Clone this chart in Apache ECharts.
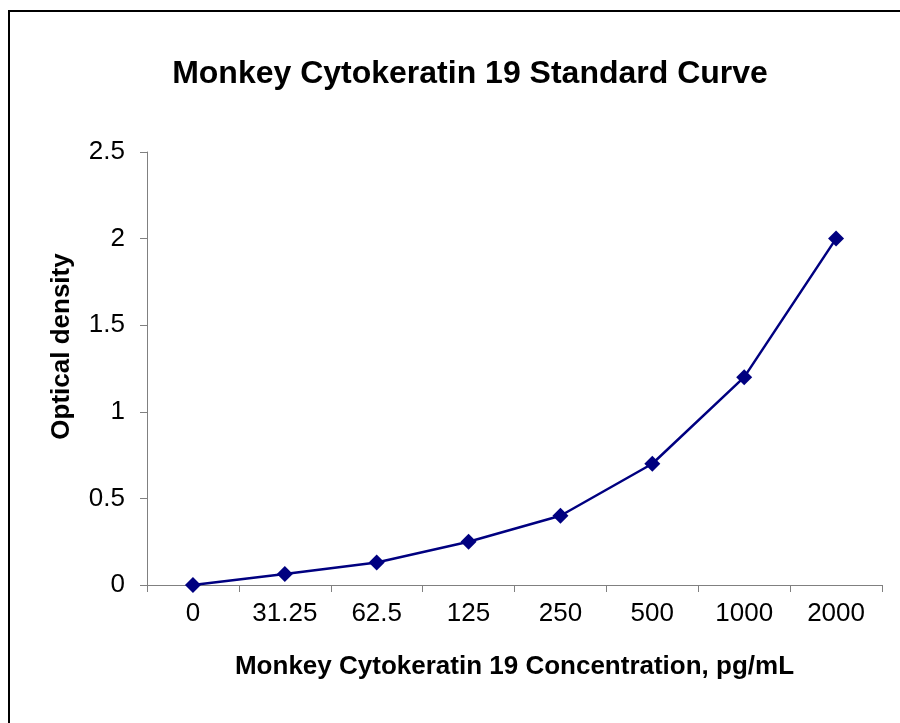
<!DOCTYPE html>
<html><head><meta charset="utf-8">
<script src="https://cdn.jsdelivr.net/npm/echarts@6/dist/echarts.min.js"></script>
<style>html,body{margin:0;padding:0;background:#fff}#c{width:900px;height:723px}</style>
</head><body><div id="c"></div>
<script>
const categories = ['0','31.25','62.5','125','250','500','1000','2000'];
const odValues = [0, 0.063, 0.13, 0.25, 0.40, 0.70, 1.20, 2.00];
const yTicks = [0, 0.5, 1, 1.5, 2, 2.5];

const chart = echarts.init(document.getElementById('c'), null, {renderer:'canvas'});
const font = 'Liberation Sans, Arial, sans-serif';
chart.setOption({
  animation: false,
  backgroundColor: '#fff',
  title: {
    text: 'Monkey Cytokeratin 19 Standard Curve',
    left: 465, top: 53, textAlign: 'center',
    textStyle: {fontFamily: font, fontSize: 32, fontWeight: 'bold', color: '#000'}
  },
  graphic: [{
    type: 'rect', shape: {x: 9, y: 11, width: 1000, height: 1000},
    style: {fill: 'none', stroke: '#000', lineWidth: 2}, silent: true
  }],
  grid: {left: 147, right: 18, top: 152, bottom: 138},
  xAxis: {
    type: 'category', data: categories, boundaryGap: true,
    name: 'Monkey Cytokeratin 19 Concentration, pg/mL',
    nameLocation: 'middle', nameGap: 69,
    nameTextStyle: {fontFamily: font, fontSize: 26, fontWeight: 'bold', color: '#000'},
    axisLine: {lineStyle: {color: '#808080', width: 1}},
    axisTick: {show: true, alignWithLabel: false, length: 7, lineStyle: {color: '#808080'}},
    axisLabel: {fontFamily: font, fontSize: 26, color: '#000', margin: 16},
    splitLine: {show: false}
  },
  yAxis: {
    type: 'value', min: yTicks[0], max: yTicks[yTicks.length-1], interval: 0.5,
    name: 'Optical density', nameLocation: 'middle', nameGap: 72,
    nameTextStyle: {fontFamily: font, fontSize: 26, fontWeight: 'bold', color: '#000',
      padding: [0, 0, 0, 44]},
    axisLine: {show: true, lineStyle: {color: '#808080', width: 1}},
    axisTick: {show: true, length: 7, lineStyle: {color: '#808080'}},
    axisLabel: {fontFamily: font, fontSize: 26, color: '#000', margin: 22,
      formatter: v => String(v)},
    splitLine: {show: false}
  },
  series: [{
    type: 'line', data: odValues,
    symbol: 'diamond', symbolSize: 16,
    lineStyle: {color: '#000080', width: 2.5},
    itemStyle: {color: '#000080'}
  }]
});
</script></body></html>
